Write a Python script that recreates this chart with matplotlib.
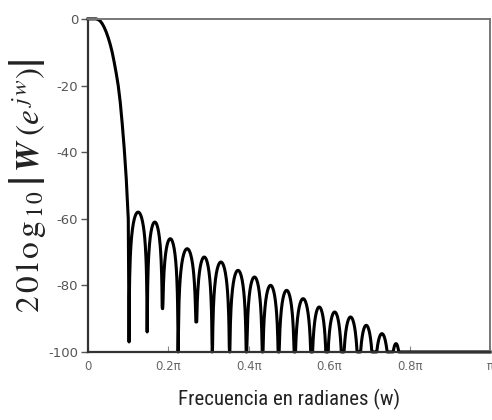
import numpy as np
import matplotlib
matplotlib.use("Agg")
import matplotlib.pyplot as plt

plt.rcParams['mathtext.fontset'] = 'stix'

# Main lobe of the window spectrum (frequency in units of pi, level in dB)
main_w = [0.0, 0.01, 0.02, 0.025, 0.03, 0.035, 0.04, 0.045, 0.05, 0.055,
          0.06, 0.065, 0.07, 0.075, 0.08, 0.085, 0.09, 0.095, 0.1]
main_db = [0.0, 0.0, 0.0, -0.2, -0.6, -1.4, -2.5, -3.9, -5.6, -7.6,
           -10.0, -13.0, -16.3, -20.0, -25.0, -31.5, -39.0, -48.0, -60.0]

# Side lobes: zero positions (units of pi), depth reached at each zero, lobe peaks
null_w = [0.102, 0.147, 0.185, 0.224, 0.269, 0.309, 0.352, 0.394, 0.434,
          0.474, 0.514, 0.556, 0.594, 0.633, 0.673, 0.711, 0.751, 0.781]
null_db = [-97, -94, -87, -100, -91, -100, -100, -100, -100,
           -100, -100, -100, -100, -100, -100, -100, -100, -100]
peak_db = [-58, -61, -66, -69, -71.5, -73, -75.5, -77.5, -80,
           -81.5, -84, -86.5, -88, -89.5, -92, -94.5, -97.5]

x_ticks = [0, 0.2, 0.4, 0.6, 0.8, 1.0]
x_ticklabels = ['0', '0.2π', '0.4π', '0.6π', '0.8π', 'π']
y_ticks = [0, -20, -40, -60, -80, -100]
y_ticklabels = ['0', '-20', '-40', '-60', '-80', '-100']

# Assemble the response curve
w = list(main_w)
db = list(main_db)
for i, pk in enumerate(peak_db):
    a, b = null_w[i], null_w[i + 1]
    t = np.linspace(0, 1, 60)
    arch = pk + 20 * np.log10(np.clip(np.sin(np.pi * t), 1e-6, None))
    floor = np.where(t < 0.5, null_db[i], null_db[i + 1])
    arch = np.maximum(arch, floor)
    w.extend(a + (b - a) * t)
    db.extend(arch)
w.extend([null_w[-1], 1.0])
db.extend([-100, -100])

fig = plt.figure(figsize=(4.92, 4.2), dpi=100)
ax = fig.add_axes([0.179, 0.162, 0.817, 0.793])
ax.plot(w, db, color='black', lw=2.2, solid_joinstyle='round', clip_on=False)

ax.set_xlim(0, 1.0)
ax.set_ylim(-100, 0)
ax.set_xticks(x_ticks)
ax.set_xticklabels(x_ticklabels)
ax.set_yticks(y_ticks)
ax.set_yticklabels(y_ticklabels)
ax.tick_params(axis='x', direction='in', length=4, width=0.8, colors='#888888',
               labelcolor='#666666', labelsize=8.5, pad=6)
ax.tick_params(axis='y', direction='out', length=5, width=1.0, colors='#555555',
               labelcolor='#555555', labelsize=9.5, pad=2)

for side in ['left', 'bottom']:
    ax.spines[side].set_color('#333333')
    ax.spines[side].set_linewidth(1.6)
for side in ['top', 'right']:
    ax.spines[side].set_color('#777777')
    ax.spines[side].set_linewidth(1.4)

ax.set_ylabel(r'$\mathrm{2\,0\,l\,o\,g}_{\,\mathrm{1\,0}}\,\left|\,\mathbfit{W}\;\left(e^{\,j\,w}\right)\right|$',
              fontsize=24, color='#222222', labelpad=0)
ax.set_xlabel('Frecuencia en radianes (w)', fontsize=15,
              family=['Liberation Sans Narrow', 'Roboto Condensed', 'DejaVu Sans'],
              color='#222222', labelpad=11)

fig.savefig('out.png', dpi=100, facecolor='white')
